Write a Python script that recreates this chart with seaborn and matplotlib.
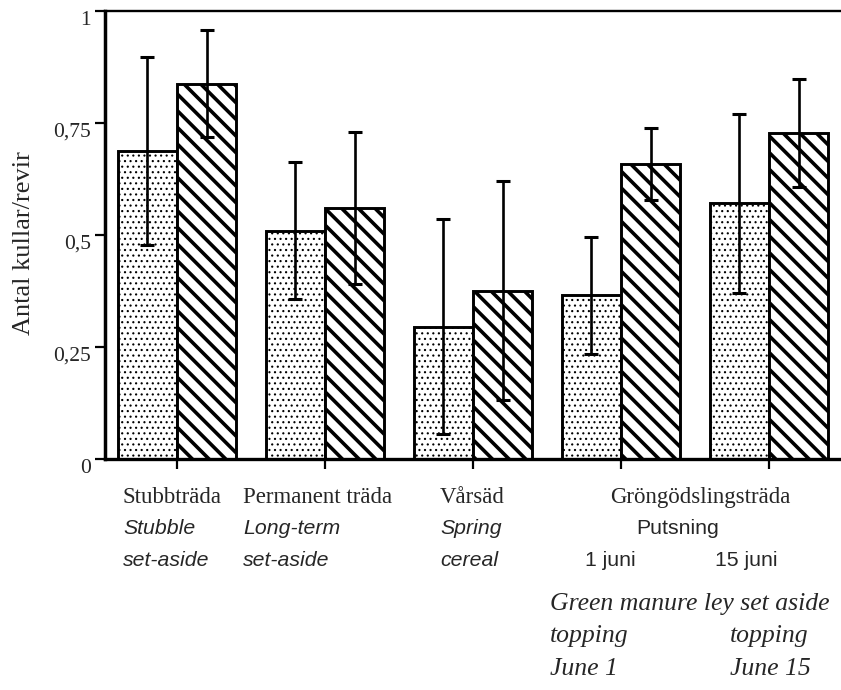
import matplotlib
matplotlib.use("Agg")
import matplotlib.pyplot as plt
import seaborn as sns
import pandas as pd

# ---------------- data ----------------
categories = ["Stubbträda", "Permanent träda", "Vårsäd", "Grön 1 juni", "Grön 15 juni"]
series_names = ["Serie A", "Serie B"]
dotted_values = [0.687, 0.510, 0.295, 0.365, 0.571]
dotted_errors = [0.21, 0.152, 0.24, 0.13, 0.20]
hatched_values = [0.838, 0.560, 0.376, 0.659, 0.728]
hatched_errors = [0.12, 0.17, 0.244, 0.08, 0.12]

y_ticks = [0, 0.25, 0.5, 0.75, 1]
y_tick_labels = ["0", "0,25", "0,5", "0,75", "1"]
y_label = "Antal kullar/revir"

row1_sv = ["Stubbträda", "Permanent träda", "Vårsäd", "Gröngödslingsträda"]
row2_en = ["Stubble", "Long-term", "Spring"]
row3_en = ["set-aside", "set-aside", "cereal"]
putsning_label = "Putsning"
topping_dates_sv = ["1 juni", "15 juni"]
green_title_en = "Green manure ley set aside"
topping_en = ["topping", "topping"]
topping_dates_en = ["June 1", "June 15"]

# ---------------- style ----------------
sns.set_style("ticks")
plt.rcParams["font.family"] = ["Liberation Serif", "DejaVu Serif"]

W, H = 841, 690
fig = plt.figure(figsize=(W / 100, H / 100), dpi=100)
ax = fig.add_axes([105 / W, 1 - 459 / H, (W - 105) / W, (459 - 11) / H])

df = pd.DataFrame({
    "kategori": categories * 2,
    "serie": [series_names[0]] * len(categories) + [series_names[1]] * len(categories),
    "värde": dotted_values + hatched_values,
})

sns.barplot(data=df, x="kategori", y="värde", hue="serie",
            palette=["white", "white"], edgecolor="black", linewidth=2.1,
            errorbar=None, legend=False, ax=ax, width=0.8, zorder=2)

hatches = ["...", "\\\\"]
hatch_lw = [0.8, 2.6]
errors = [dotted_errors, hatched_errors]
for cont, h, hl, errs in zip(ax.containers, hatches, hatch_lw, errors):
    xs, ys = [], []
    for bar in cont:
        bar.set_hatch(h)
        bar.set_edgecolor("black")
        if hasattr(bar, "set_hatch_linewidth"):
            bar.set_hatch_linewidth(hl)
        xs.append(bar.get_x() + bar.get_width() / 2)
        ys.append(bar.get_height())
    ax.errorbar(xs, ys, yerr=errs, fmt="none", ecolor="black",
                elinewidth=1.9, capsize=4.8, capthick=2.2, zorder=3)

ax.set_xlim(-0.486, 4.486)
ax.set_ylim(0, 1)
ax.set_yticks(y_ticks)
ax.set_yticklabels(y_tick_labels, fontsize=15.5, family=["Liberation Serif"])
for lab in ax.get_yticklabels():
    lab.set_verticalalignment("top")
ax.set_xticks(range(len(categories)))
ax.set_xticklabels([""] * len(categories))
ax.set_xlabel("")
ax.set_ylabel("")

ax.tick_params(axis="y", direction="out", length=7, width=1.6, pad=3, color="black")
ax.tick_params(axis="x", direction="out", length=7, width=1.6, color="black")

ax.spines["right"].set_visible(False)
ax.spines["left"].set_linewidth(2.5)
ax.spines["bottom"].set_linewidth(2.4)
ax.spines["top"].set_linewidth(1.7)
for s in ax.spines.values():
    s.set_color("black")
    s.set_zorder(4)


def ptext(x, y, s, **kw):
    fig.text(x / W, 1 - y / H, s, **kw)


# y label
ptext(24, 243, y_label, rotation=90, ha="center", va="center", fontsize=19,
      family=["Liberation Serif"])

serif = ["Liberation Serif"]
sans = ["Liberation Sans"]

# row 1 (Swedish, serif)
row1_x = [123, 243, 440]
for x, s in zip(row1_x, row1_sv[:3]):
    ptext(x, 503, s, ha="left", va="baseline", fontsize=16.5, family=serif)
ptext(700, 503, row1_sv[3], ha="center", va="baseline", fontsize=16.5, family=serif)

# rows 2-3 (English, sans italic)
for x, s in zip(row1_x, row2_en):
    ptext(x, 534, s, ha="left", va="baseline", fontsize=15.3, family=sans, style="italic")
for x, s in zip(row1_x, row3_en):
    ptext(x, 566, s, ha="left", va="baseline", fontsize=15.3, family=sans, style="italic")

ptext(678, 534, putsning_label, ha="center", va="baseline", fontsize=15.3, family=sans)
for x, s in zip([585, 715], topping_dates_sv):
    ptext(x, 566, s, ha="left", va="baseline", fontsize=15.3, family=sans)

# English green manure block (serif italic)
ptext(550, 610, green_title_en, ha="left", va="baseline", fontsize=18.5,
      family=serif, style="italic")
for x, s in zip([550, 730], topping_en):
    ptext(x, 642, s, ha="left", va="baseline", fontsize=18.5, family=serif, style="italic")
for x, s in zip([550, 730], topping_dates_en):
    ptext(x, 675, s, ha="left", va="baseline", fontsize=18.5, family=serif, style="italic")

fig.savefig("out.png", dpi=100)
